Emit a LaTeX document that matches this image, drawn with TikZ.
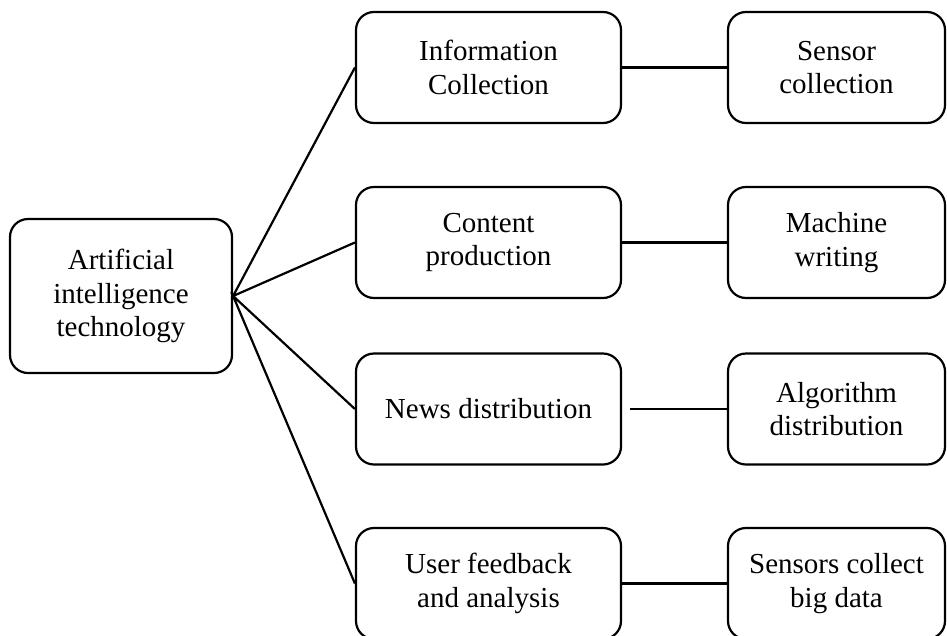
\documentclass[tikz,border=0pt]{standalone}
\usepackage{fontspec}
\setmainfont{Liberation Serif}
\usetikzlibrary{positioning}

\begin{document}
\begin{tikzpicture}[x=1pt,y=-1pt,
  box/.style={draw,line width=2.2pt,rounded corners=18pt,align=center,
    inner sep=0pt,font=\fontsize{29}{33.5}\selectfont},
  midbox/.style={box,minimum width=265pt,minimum height=111pt},
  endbox/.style={box,minimum width=217pt,minimum height=111pt},
  link/.style={line width=2.2pt}]
\useasboundingbox (0,0) rectangle (947,635);

\node[box,minimum width=222pt,minimum height=154pt] (ai) at (121,296)
  {Artificial\\intelligence\\technology};

\node[midbox] (collect) at (488.5,67.5) {Information\\Collection};
\node[midbox] (produce) at (488.5,242.5) {Content\\production};
\node[midbox] (distrib) at (488.5,409) {News distribution};
\node[midbox] (feedback) at (488.5,583.5) {User feedback\\and analysis};

\node[endbox] (sensor) at (836.5,67.5) {Sensor\\collection};
\node[endbox] (writing) at (836.5,242.5) {Machine\\writing};
\node[endbox] (algo) at (836.5,409) {Algorithm\\distribution};
\node[endbox] (bigdata) at (836.5,583.5) {Sensors collect\\big data};

\draw[link] (collect.west) -- (ai.east) -- (produce.west);
\draw[link] (distrib.west) -- (ai.east) -- (feedback.west);

\draw[link] (collect) -- (sensor);
\draw[link] (produce) -- (writing);
\draw[link,shorten <=8pt] (distrib) -- (algo);
\draw[link] (feedback) -- (bigdata);

\end{tikzpicture}
\end{document}
